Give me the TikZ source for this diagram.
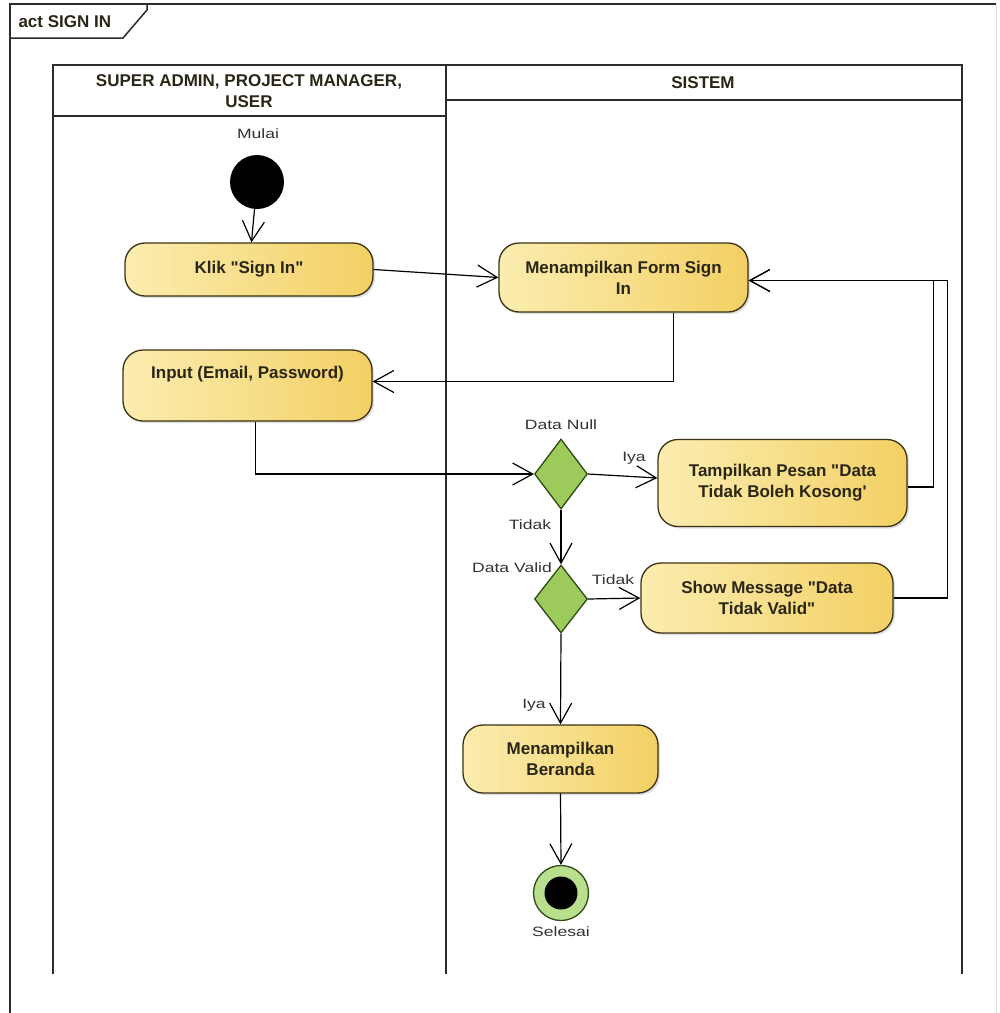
\documentclass[tikz,border=0pt]{standalone}
\usepackage{fontspec}
\setmainfont{Liberation Sans}[Ligatures=TeXOff]
\newfontfamily\lblfont[FakeStretch=1.3,Ligatures=TeXOff]{Liberation Sans}
\usetikzlibrary{arrows.meta,shapes.geometric,shadows}

\definecolor{boxL}{HTML}{FBEDB0}
\definecolor{boxR}{HTML}{F3D064}
\definecolor{boxline}{HTML}{3A3212}
\definecolor{txt}{HTML}{2A2615}
\definecolor{lbl}{HTML}{333333}
\definecolor{dfill}{HTML}{9CCB5C}
\definecolor{dline}{HTML}{2F4A12}
\definecolor{endfill}{HTML}{B8DF8E}
\definecolor{frameC}{HTML}{2B2B2B}

\tikzset{
  action/.style={rounded corners=20pt, draw=boxline, line width=1.3pt,
    left color=boxL, right color=boxR,
    drop shadow={shadow xshift=2pt, shadow yshift=-2pt, opacity=0.25},
    font=\fontsize{17}{21}\selectfont\bfseries, text=txt, align=center,
    inner sep=0pt},
  decision/.style={diamond, draw=dline, line width=1.3pt, fill=dfill,
    minimum width=53pt, minimum height=70pt, inner sep=0pt},
  lblnode/.style={font=\lblfont\fontsize{13.5}{16}\selectfont, text=lbl, inner sep=1pt},
  flow/.style={draw=black, line width=1.2pt,
    -{Straight Barb[length=20pt,width=22pt,line width=1.2pt]}},
  laneline/.style={draw=frameC, line width=1.5pt},
  headtext/.style={font=\fontsize{17}{21}\selectfont\bfseries, text=txt, align=center}
}

\begin{document}
\begin{tikzpicture}[x=1pt,y=-1pt]
\useasboundingbox (0,0) rectangle (1000,1013);

% diagram frame with its name tab
\draw[laneline] (10,1013) -- (10,4) -- (996,4);
\draw[gray!25, line width=1pt] (996,4) -- (996,1013);
\draw[laneline] (10,38) -- (123,38) -- (147,10) -- (147,4);
\node[headtext, anchor=west] (frametitle) at (15,22) {act SIGN IN};

% swimlanes
\draw[laneline] (53,974) -- (53,65) -- (962,65) -- (962,974);
\draw[laneline] (446,65) -- (446,974);
\draw[laneline] (53,116) -- (446,116);
\draw[laneline] (446,100) -- (962,100);
\node[headtext] (laneA) at (249,91) {SUPER ADMIN, PROJECT MANAGER,\\USER};
\node[headtext] (laneB) at (703,83) {SISTEM};

% start and end
\node[circle, fill=black, minimum size=54pt, inner sep=0pt] (start) at (257,182) {};
\node[lblnode] (startlbl) at (258,134) {Mulai};

% actions
\node[action, minimum width=248pt, minimum height=53pt] (klik) at (249,269.5) {Klik "Sign In"};
\node[action, minimum width=249pt, minimum height=69pt] (form) at (623.5,277.5) {Menampilkan Form Sign\\In};
\node[action, minimum width=249pt, minimum height=71pt] (input) at (247.5,385.5) {Input (Email, Password)\\\strut};
\node[action, minimum width=249pt, minimum height=87pt] (tamp) at (782.5,483) {Tampilkan Pesan "Data\\Tidak Boleh Kosong'};
\node[action, minimum width=252pt, minimum height=70pt] (show) at (767,598) {Show Message "Data\\Tidak Valid"};
\node[action, minimum width=195pt, minimum height=68pt] (beranda) at (560.5,759) {Menampilkan\\Beranda};

% decisions
\node[decision] (dnull) at (561,474) {};
\node[decision, minimum height=68pt] (dvalid) at (561,599) {};
\node[lblnode] (dnulllbl) at (561,425) {Data Null};
\node[lblnode] (dvalidlbl) at (512,568) {Data Valid};

% final node
\node[circle, draw=dline, line width=1.3pt, fill=endfill, minimum size=55pt, inner sep=0pt] (end) at (561,893) {};
\fill[black] (end.center) circle (16.5pt);
\node[lblnode] (endlbl) at (561,932) {Selesai};

% flows
\draw[flow] (start) -- (klik);
\draw[flow] (klik.east) -- (form.west);
\draw[flow] ([xshift=50pt]form.south) |- ([yshift=4pt]input.east);
\draw[flow] ([xshift=8pt]input.south) |- (dnull.west);
\draw[flow] (dnull.east) -- ([yshift=5pt]tamp.west);
\draw[flow] (dnull.south) -- (dvalid.north);
\draw[flow] (dvalid.east) -- (show.west);
\draw[flow] (dvalid.south) -- (beranda.north);
\draw[flow] (beranda.south) -- (end.north);
\draw[flow] ([yshift=-4pt]tamp.east) -- ++(26,0) |- ([yshift=-3pt]form.east);
\draw[flow] (show.east) -- ++(54,0) |- ([yshift=-3pt]form.east);

% guard labels
\node[lblnode] (g1) at (634,458) {Iya};
\node[lblnode] (g2) at (530,525) {Tidak};
\node[lblnode] (g3) at (613,580) {Tidak};
\node[lblnode] (g4) at (534,705) {Iya};
\end{tikzpicture}
\end{document}
